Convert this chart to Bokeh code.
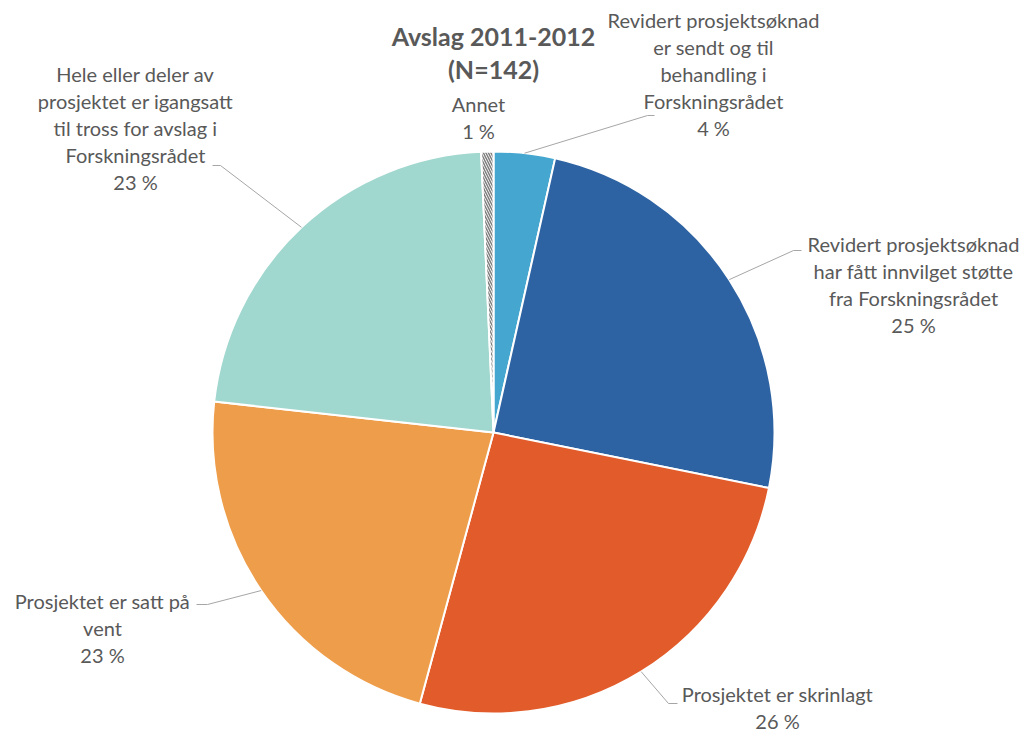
import math
from bokeh.plotting import figure
from bokeh.models import Range1d
from bokeh.core.properties import value
from bokeh.embed import file_html
from bokeh.resources import INLINE

# ---- data ----
categories = [
    "Revidert prosjektsøknad\ner sendt og til\nbehandling i\nForskningsrådet",
    "Revidert prosjektsøknad\nhar fått innvilget støtte\nfra Forskningsrådet",
    "Prosjektet er skrinlagt",
    "Prosjektet er satt på\nvent",
    "Hele eller deler av\nprosjektet er igangsatt\ntil tross for avslag i\nForskningsrådet",
    "Annet",
]
counts = [5, 35, 37, 32, 32, 1]
title_lines = ["Avslag 2011-2012", "(N=142)"]

# ---- styling / layout ----
colors = ["#45A7CF", "#2E63A3", "#E25B2A", "#EE9D4A", "#A0D7CE", "#FFFFFF"]
hatches = [None, None, None, None, None, "\\"]
W, H = 1024, 733
TXT = "#595959"
LEAD = "#A6A6A6"
FONT = "Lato"

def Y(sy):  # screen y -> data y
    return H - sy

cx, cy, R = 493, Y(432), 281

# label layout: (center x, first line screen y, elbow, end) ; None for no leader
label_layout = [
    (713, 19, (647, 115), (654, 115)),
    (913, 243, (793, 250), (801, 250)),
    (777, 693, (668, 703), (677, 703)),
    (102, 600, (207, 604), (196, 604)),
    (135, 73, (220, 165), (212, 165)),
    (478, 103, None, None),
]
LINE_H = 27

p = figure(width=W, height=H, output_backend="svg", toolbar_location=None,
           x_range=Range1d(0, W), y_range=Range1d(0, H),
           min_border=0)
p.axis.visible = False
p.grid.visible = False
p.outline_line_color = None
p.background_fill_color = "white"
p.border_fill_color = "white"

total = sum(counts)
cum = 0
for i, c in enumerate(counts):
    a0 = math.pi / 2 - 2 * math.pi * cum / total
    a1 = math.pi / 2 - 2 * math.pi * (cum + c) / total
    kw = {}
    if hatches[i]:
        kw = dict(hatch_pattern=hatches[i], hatch_color="#7F7F7F",
                  hatch_scale=5, hatch_weight=1.5)
    p.wedge(x=[cx], y=[cy], radius=R, start_angle=a0, end_angle=a1,
            direction="clock", fill_color=colors[i], line_color="white",
            line_width=2, **kw)
    mid = math.pi / 2 - 2 * math.pi * (cum + c / 2) / total
    lx, ly0, elbow, end = label_layout[i]
    if elbow is not None:
        sx = cx + R * math.cos(mid)
        sy = cy + R * math.sin(mid)
        p.line([sx, elbow[0], end[0]], [sy, Y(elbow[1]), Y(end[1])],
               line_color=LEAD, line_width=1)
    pct = round(100 * c / total)
    lines = categories[i].split("\n") + [f"{pct} %"]
    p.text(x=[lx] * len(lines),
           y=[Y(ly0 + k * LINE_H) for k in range(len(lines))],
           text=lines, text_align="center", text_baseline="middle",
           text_font=value(FONT), text_font_size="20px", text_color=TXT)
    cum += c

p.text(x=[493, 493], y=[Y(35), Y(68)], text=title_lines,
       text_align="center", text_baseline="middle", text_font=value(FONT),
       text_font_size="25px", text_font_style="bold", text_color=TXT)

open("out.html", "w").write(file_html(p, INLINE))
